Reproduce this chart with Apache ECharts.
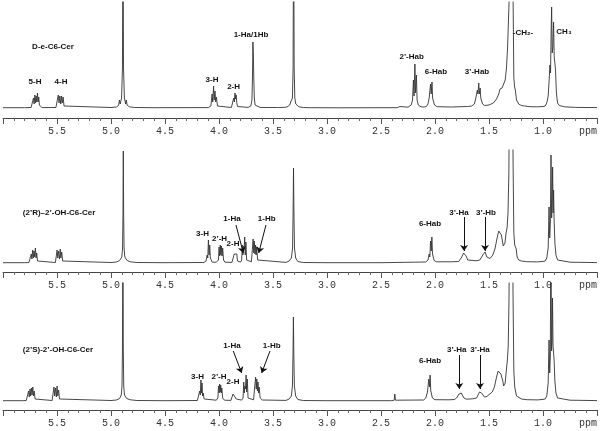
<!DOCTYPE html>
<html><head><meta charset="utf-8">
<script src="https://cdn.jsdelivr.net/npm/echarts@6/dist/echarts.min.js"></script>
<style>html,body{margin:0;padding:0;background:#fff}#c{width:600px;height:431px}</style>
</head><body><div id="c"></div><script>
// ppm axis tick labels
const tickLabels = ['1.0','1.5','2.0','2.5','3.0','3.5','4.0','4.5','5.0','5.5'];
const unitLabel = 'ppm';

// spectra: [ppm, intensity]
const spec1 = [[6.0,0.3],[5.80,0.3],[5.74,0.5],[5.725,2],[5.718,10],[5.712,4],[5.705,13],[5.699,5],[5.693,12],[5.687,6],[5.681,15],[5.675,6],[5.669,11],[5.663,3],[5.655,1],[5.64,0.4],
[5.51,0.5],[5.495,2],[5.488,13],[5.481,5],[5.473,12],[5.465,4],[5.458,12],[5.451,5],[5.443,11],[5.435,2],[5.42,0.4],
[5.0,0.5],[4.95,1],[4.93,2.5],[4.922,8],[4.915,4],[4.902,10],[4.894,40],[4.889,200],[4.884,40],[4.876,10],[4.865,4],[4.858,8],[4.851,3],[4.83,1.2],[4.78,0.5],[4.6,0.3],
[4.10,0.4],[4.075,2],[4.064,14],[4.058,6],[4.050,22],[4.044,8],[4.037,17],[4.031,6],[4.024,11],[4.014,2],[4.0,0.6],
[3.885,0.5],[3.872,2],[3.864,10],[3.858,6],[3.852,15],[3.847,9],[3.841,13],[3.835,5],[3.828,1.5],[3.815,0.6],
[3.73,0.6],[3.705,2],[3.695,8],[3.690,30],[3.686,66],[3.682,55],[3.678,30],[3.673,10],[3.666,3],[3.65,1.2],[3.62,0.6],
[3.565,0.5],[3.555,2],[3.545,0.5],[3.47,0.5],[3.46,2],[3.45,0.5],[3.40,0.6],
[3.37,1],[3.345,3],[3.336,6],[3.330,4],[3.320,10],[3.314,40],[3.309,200],[3.304,40],[3.298,10],[3.289,4],[3.283,6],[3.276,3],[3.26,1.2],[3.22,0.5],
[3.175,0.3],[3.165,1.5],[3.155,0.3],[2.9,0.2],[2.37,0.3],[2.36,1.5],[2.35,0.3],[2.335,0.3],[2.325,1.5],[2.315,0.3],
[2.25,0.8],[2.22,3],[2.208,8],[2.200,28],[2.194,12],[2.186,44],[2.180,15],[2.172,33],[2.166,8],[2.155,3],[2.13,1.2],[2.10,1],
[2.08,1.5],[2.065,4],[2.054,10],[2.048,8],[2.041,24],[2.035,14],[2.028,26],[2.022,10],[2.015,9],[2.005,3],[1.98,1.3],
[1.85,1],[1.70,1.5],[1.66,2],[1.635,4],[1.622,10],[1.615,8],[1.608,18],[1.602,14],[1.595,25],[1.589,14],[1.582,20],[1.576,10],[1.569,12],[1.56,4],[1.54,2.5],
[1.50,3],[1.46,5],[1.43,9],[1.41,14],[1.398,19],[1.391,21],[1.385,17],[1.379,20],[1.372,18],[1.362,22],[1.35,28],[1.338,40],[1.328,60],[1.320,62],[1.313,110],[1.306,200],[1.296,200],[1.290,150],[1.284,200],[1.277,110],[1.270,30],[1.263,21],[1.256,18],[1.245,8],[1.225,4],[1.20,2.5],[1.17,2],[1.12,1.3],[1.05,1.2],[1.0,1.5],
[0.98,2],[0.965,5],[0.952,12],[0.942,30],[0.936,43],[0.930,35],[0.925,75],[0.920,101],[0.915,55],[0.909,60],[0.902,86],[0.896,50],[0.890,45],[0.884,38],[0.876,15],[0.865,5],[0.85,2.5],[0.80,1.2],[0.70,0.6],[0.5,0.4]];

const spec2 = [[6.0,0.3],[5.80,0.3],[5.76,0.5],[5.745,2],[5.738,9],[5.732,4],[5.725,13],[5.719,5],[5.713,12],[5.707,6],[5.700,15],[5.694,5],[5.688,10],[5.680,2],[5.665,0.4],
[5.515,0.5],[5.505,2],[5.499,13],[5.493,5],[5.485,12],[5.477,4],[5.470,14],[5.464,5],[5.456,11],[5.448,2],[5.435,0.4],
[5.0,0.5],[4.95,1],[4.92,2.5],[4.90,6],[4.893,15],[4.889,50],[4.886,112],[4.883,50],[4.879,15],[4.872,6],[4.85,2.5],[4.82,1.2],[4.76,0.5],[4.5,0.3],
[4.14,0.5],[4.12,2],[4.110,8],[4.104,5],[4.098,23],[4.092,8],[4.086,18],[4.080,5],[4.074,3],[4.062,0.8],
[4.025,0.8],[4.005,3],[3.999,16],[3.994,7],[3.988,18],[3.983,8],[3.977,17],[3.972,7],[3.966,15],[3.958,3],[3.945,0.8],
[3.88,0.6],[3.866,2],[3.859,9],[3.853,7],[3.847,11],[3.841,8],[3.835,9],[3.829,2],[3.815,0.8],
[3.80,0.9],[3.790,3],[3.784,18],[3.779,8],[3.773,17],[3.768,14],[3.762,26],[3.757,8],[3.751,21],[3.744,3],[3.73,1.2],
[3.70,1.2],[3.690,3],[3.684,24],[3.678,10],[3.673,22],[3.667,9],[3.662,18],[3.656,8],[3.651,16],[3.642,3],[3.625,1],
[3.38,0.6],[3.35,2],[3.33,5],[3.319,15],[3.314,50],[3.310,95],[3.306,50],[3.301,15],[3.29,5],[3.27,1.5],[3.22,0.5],[3.0,0.3],
[2.5,0.3],[2.085,1],[2.065,3],[2.054,9],[2.048,6],[2.041,22],[2.035,12],[2.029,26],[2.023,9],[2.017,8],[2.008,2.5],[1.985,1.2],
[1.85,1.2],[1.78,1.5],[1.765,3],[1.752,6],[1.742,8],[1.735,10],[1.729,9],[1.722,10],[1.712,7],[1.697,3],[1.68,2],
[1.62,2.2],[1.585,3],[1.57,4.5],[1.558,8],[1.550,10],[1.543,9],[1.536,11],[1.528,9],[1.520,6],[1.505,4],[1.49,4.5],
[1.465,8],[1.445,14],[1.425,25],[1.41,32],[1.402,34],[1.395,30],[1.385,28],[1.376,22],[1.368,17],[1.360,16],[1.352,20],[1.342,30],[1.332,36],[1.324,50],[1.316,90],[1.309,200],[1.296,200],[1.290,160],[1.284,200],[1.277,100],[1.270,30],[1.262,18],[1.255,16],[1.248,14],[1.240,6],[1.225,3],[1.20,2],[1.15,1.3],[1.05,1.1],[1.0,1.6],
[0.98,2],[0.965,5],[0.952,15],[0.944,56],[0.938,25],[0.932,40],[0.926,108],[0.920,45],[0.915,60],[0.911,96],[0.906,50],[0.902,73],[0.897,43],[0.890,20],[0.880,8],[0.865,3],[0.85,1.8],[0.75,0.8],[0.5,0.4]];

const spec3 = [[6.0,0.3],[5.82,0.3],[5.785,0.5],[5.77,2],[5.763,10],[5.757,4],[5.750,12],[5.744,5],[5.737,13],[5.731,6],[5.724,14],[5.718,5],[5.711,10],[5.703,2],[5.69,0.4],
[5.545,0.5],[5.535,2],[5.528,14],[5.522,5],[5.514,13],[5.506,4],[5.499,15],[5.493,5],[5.485,11],[5.477,2],[5.465,0.4],
[5.0,0.5],[4.95,1],[4.92,2.5],[4.905,6],[4.898,15],[4.894,50],[4.890,200],[4.886,50],[4.882,15],[4.875,6],[4.855,2.5],[4.82,1.2],[4.76,0.5],[4.5,0.3],
[4.20,0.5],[4.186,2],[4.179,10],[4.173,6],[4.167,21],[4.162,8],[4.157,18],[4.152,5],[4.146,8],[4.138,2],[4.125,0.6],
[4.025,0.8],[4.010,3],[4.004,15],[3.999,8],[3.994,17],[3.989,9],[3.984,16],[3.979,8],[3.974,13],[3.966,3],[3.95,0.8],
[3.89,0.6],[3.877,2],[3.870,7],[3.864,6],[3.858,9],[3.852,7],[3.846,7],[3.840,2],[3.825,0.7],
[3.79,0.9],[3.777,3],[3.771,19],[3.766,8],[3.760,15],[3.755,12],[3.749,26],[3.744,9],[3.738,22],[3.731,3],[3.715,1.2],
[3.68,1.2],[3.667,3],[3.661,24],[3.655,12],[3.650,22],[3.644,10],[3.639,19],[3.633,8],[3.628,14],[3.619,3],[3.60,1],
[3.38,0.6],[3.35,2],[3.33,5],[3.320,15],[3.315,45],[3.311,84],[3.307,45],[3.302,15],[3.29,5],[3.27,1.5],[3.22,0.5],[3.0,0.3],
[2.40,0.3],[2.378,0.8],[2.372,7],[2.366,0.8],[2.35,0.3],
[2.105,1],[2.085,3],[2.070,9],[2.064,7],[2.057,22],[2.051,14],[2.045,26],[2.039,10],[2.033,9],[2.024,3],[2.0,1.3],
[1.87,1.2],[1.82,1.5],[1.80,3],[1.787,5],[1.777,7],[1.770,8],[1.764,7.5],[1.757,8],[1.747,6],[1.732,3],[1.71,1.8],
[1.65,2.2],[1.615,3],[1.598,5],[1.588,9],[1.581,8],[1.575,11],[1.569,8],[1.562,10],[1.555,6],[1.542,4],[1.52,4.5],
[1.47,9],[1.45,14],[1.43,24],[1.415,30],[1.405,32],[1.398,31],[1.390,27],[1.380,26],[1.372,20],[1.365,15],[1.358,14],[1.350,18],[1.340,30],[1.330,41],[1.322,55],[1.315,100],[1.308,200],[1.296,200],[1.290,170],[1.284,200],[1.277,100],[1.270,30],[1.262,14],[1.255,10],[1.245,5],[1.23,3],[1.20,2],[1.15,1.3],[1.05,1.1],[1.0,1.6],
[0.98,2],[0.965,5],[0.952,18],[0.944,61],[0.938,28],[0.932,45],[0.927,200],[0.921,50],[0.916,60],[0.912,103],[0.907,55],[0.903,53],[0.897,41],[0.890,20],[0.880,8],[0.865,3],[0.85,1.8],[0.75,0.8],[0.5,0.4]];

// annotations: [text, ppm, intensity]
const ann1 = [['D-e-C6-Cer',5.537,61],['5-H',5.704,26],['4-H',5.463,26],['3-H',4.065,28],['2-H',3.865,21],['1-Ha/1Hb',3.704,73],
  ['2’-Hab',2.216,51],['6-Hab',1.991,36],['3’-Hab',1.611,36],['-CH₂-',1.185,75],['CH₃',0.806,76]];
const ann2 = [['(2’R)–2’-OH-C6-Cer',5.481,50],['3-H',4.153,29],['2’-H',3.995,24],['2-H',3.870,19],['1-Ha',3.880,44],['1-Hb',3.558,44],
  ['6-Hab',2.046,39],['3’-Ha',1.778,50],['3’-Hb',1.528,50]];
const ann3 = [['(2’S)-2’-OH-C6-Cer',5.491,51],['3-H',4.199,24],['2’-H',4.0,24],['2-H',3.870,19],['1-Ha',3.880,55],['1-Hb',3.512,55],
  ['6-Hab',2.046,40],['3’-Ha',1.799,51],['3’-Ha',1.583,51]];
// arrows: [ppmFrom, intFrom, ppmTo, intTo]
const arrows2 = [[3.843,38,3.775,10],[3.565,38,3.632,10],[1.731,46,1.731,12],[1.537,46,1.537,12]];
const arrows3 = [[3.868,50,3.790,28],[3.528,50,3.605,28],[1.775,46,1.775,12],[1.583,46,1.583,12]];

const panels = [
  {spec: spec1, ann: ann1, arrows: [], top: 2, height: 116, ymin: -10, ymax: 106},
  {spec: spec2, ann: ann2, arrows: arrows2, top: 150, height: 122, ymin: -9, ymax: 113},
  {spec: spec3, ann: ann3, arrows: arrows3, top: 283, height: 127, ymin: -9, ymax: 118}
];

const chart = echarts.init(document.getElementById('c'), null, {renderer: 'canvas'});
const option = {
  animation: false,
  backgroundColor: '#fff',
  grid: panels.map(p => ({left: 3, right: 3, top: p.top, height: p.height})),
  xAxis: panels.map((p, i) => ({
    type: 'value', gridIndex: i, min: 0.5, max: 6.0, interval: 0.5, inverse: true,
    axisLine: {show: true, onZero: false, lineStyle: {color: '#444', width: 1}},
    axisTick: {show: true, inside: false, length: 6, lineStyle: {color: '#555'}},
    minorTick: {show: true, splitNumber: 5, length: 3, lineStyle: {color: '#666'}},
    splitLine: {show: false},
    axisLabel: {
      show: true, margin: 8, color: '#333', fontFamily: 'Liberation Mono, DejaVu Sans Mono, monospace', fontSize: 10,
      alignMinLabel: 'right',
      formatter: v => {
        if (Math.abs(v - 0.5) < 1e-6) return unitLabel;
        const s = v.toFixed(1);
        return tickLabels.indexOf(s) >= 0 ? s : '';
      }
    }
  })),
  yAxis: panels.map((p, i) => ({type: 'value', gridIndex: i, min: p.ymin, max: p.ymax, show: false})),
  series: panels.map((p, i) => ({
    type: 'line', xAxisIndex: i, yAxisIndex: i, data: p.spec, showSymbol: false, symbol: 'none',
    clip: true, silent: true,
    lineStyle: {color: '#333', width: 0.9},
    markPoint: {
      symbol: 'circle', symbolSize: 1, silent: true,
      itemStyle: {color: 'rgba(0,0,0,0)'},
      label: {show: true, position: 'inside', formatter: '{b}', color: '#111', fontFamily: 'Liberation Sans, Arial, sans-serif', fontWeight: 'bold', fontSize: 8},
      data: p.ann.map(a => ({name: a[0], coord: [a[1], a[2]]}))
    },
    markLine: {
      silent: true, symbol: ['none', 'arrow'], symbolSize: 6,
      label: {show: false},
      lineStyle: {color: '#111', width: 1, type: 'solid'},
      data: p.arrows.map(a => [{coord: [a[0], a[1]]}, {coord: [a[2], a[3]]}])
    }
  }))
};
chart.setOption(option);
</script></body></html>
